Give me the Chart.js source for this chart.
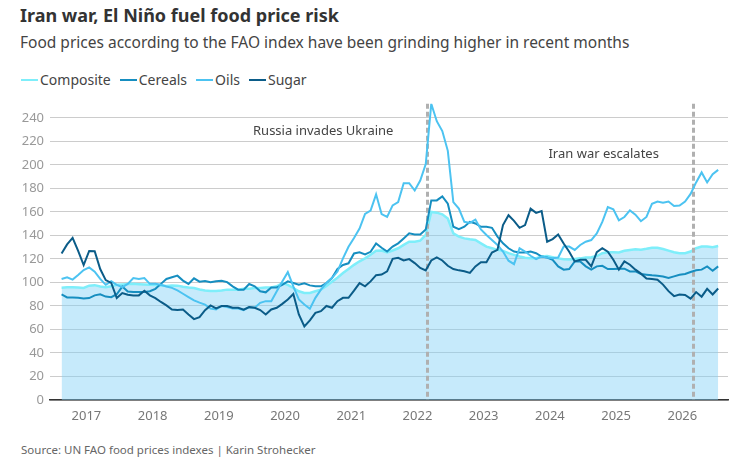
<!DOCTYPE html>
<html>
<head>
<meta charset="utf-8">
<title>FAO food prices</title>
<script src="https://cdn.jsdelivr.net/npm/chart.js@4.4.1/dist/chart.umd.min.js"></script>
<style>
  body { margin: 0; background: #fff; font-family: "Noto Sans", sans-serif; }
  #wrap { position: relative; width: 748px; height: 464px; overflow: hidden; }
  #title { position: absolute; left: 20px; top: 3px; font-size: 18px; font-weight: 700; color: #333; }
  #subtitle { position: absolute; left: 20px; top: 31px; font-size: 15.5px; color: #444; }
  #legend { position: absolute; left: 21px; top: 70px; font-size: 14px; color: #444; display: flex; }
  #legend span.item { display: flex; align-items: center; margin-right: 9px; }
  #legend i { display: inline-block; width: 17px; height: 2px; margin-right: 2px; }
  #source { position: absolute; left: 21px; top: 442px; font-size: 11.5px; color: #666; }
  #chart { position: absolute; left: 0; top: 90px; }
</style>
</head>
<body>
<div id="wrap">
  <div id="title">Iran war, El Niño fuel food price risk</div>
  <div id="subtitle">Food prices according to the FAO index have been grinding higher in recent months</div>
  <div id="legend"></div>
  <canvas id="chart" width="748" height="340"></canvas>
  <div id="source">Source: UN FAO food prices indexes | Karin Strohecker</div>
</div>
<script>
// ==============================
// DATA (monthly, Aug 2016 - Jul 2026)
// ==============================
const startYear = 2016;
const startMonth = 8;
const yearTicks = [2017, 2018, 2019, 2020, 2021, 2022, 2023, 2024, 2025, 2026];
const valueTicks = [0, 20, 40, 60, 80, 100, 120, 140, 160, 180, 200, 220, 240];

const composite = [
  95.6, 96, 96, 95.8, 95.3, 97.3, 97.7, 96.5, 96, 96.7,
  98, 98.3, 98.7, 98.8, 98.5, 98.3, 98, 97.8, 97.5, 97,
  97.5, 97.3, 96.3, 95.7, 95.3, 94, 93.2, 92.8, 92.8, 93.2,
  93.9, 93.9, 93.9, 94.7, 94.7, 95.3, 95.3, 95.8, 95.8, 96.7,
  99.5, 98, 95.3, 92.5, 91.1, 91.1, 92.5, 93.9, 97, 100.5,
  104, 108, 111.5, 115, 118, 120.5, 123.5, 127, 127.2, 125.5,
  127.2, 129.1, 132, 134.7, 134.7, 135.6, 140.4, 160, 159.4, 158,
  154.4, 141.8, 139, 137.5, 136.7, 136.1, 133.3, 130.5, 129.1, 127.7,
  126.9, 124.9, 123.5, 122.1, 121, 120.7, 120.7, 122, 122.5, 121.5,
  120.5, 119.8, 119.5, 120, 120.5, 121.2, 121.5, 122.5, 124.9, 125.7,
  125.8, 125.5, 127, 127.6, 128.2, 127.9, 128.6, 129.6, 129.6, 128.5,
  127.1, 125.7, 124.9, 124.9, 126.3, 129.1, 130.5, 130.5, 129.9, 131
];

const cereals = [
  89.8, 87.3, 87.3, 87, 86.4, 86.7, 89, 90, 88, 87.5,
  90, 96.5, 92.3, 91.8, 91.8, 91.8, 92.5, 94.6, 98.8, 103,
  104.4, 105.8, 101.6, 98.8, 103.5, 100.7, 101.3, 100.2, 101, 101.5,
  100.3, 96.7, 93.9, 93.9, 98.7, 96.7, 92.5, 91.6, 95.8, 95.8,
  98, 100.9, 99.5, 98, 99.2, 97.5, 96.7, 96.7, 99.5, 103.7,
  111.6, 114.9, 116.3, 124.7, 125.6, 123.9, 126.1, 133.2, 129.5, 126.3,
  130.5, 133.3, 137.5, 141.8, 140.9, 140.9, 145.1, 169.8, 169.8, 173.2,
  167, 147.4, 145.4, 147.4, 151.6, 150.2, 147.4, 147.4, 146.5, 139,
  133.3, 129.1, 126.3, 125.5, 125.5, 126.3, 124.9, 122.1, 121.2, 119.3,
  113.7, 110.9, 111.4, 117.9, 117.9, 113.7, 110.9, 113.7, 114.2, 111.4,
  111.4, 111.7, 111.7, 109.4, 109.4, 107.2, 106.6, 106.1, 105.8, 105,
  103.8, 105.2, 106.6, 107.2, 108.9, 110.3, 110.9, 113.7, 110, 113.7
];

const oils = [
  103, 104.4, 102.4, 106.3, 110.6, 112.8, 109.2, 103, 98, 101,
  98, 96, 98.8, 103.8, 103, 103.8, 98.8, 98.8, 98, 96.5,
  95.4, 93.2, 90.4, 87.6, 84.8, 82.8, 81.1, 77.7, 77, 80,
  79, 77.9, 77.9, 76.5, 79, 78.5, 82.7, 84.1, 84.1, 92.5,
  100.9, 108.8, 96.7, 85.5, 81.3, 77.6, 86.9, 93.9, 99.5, 103.7,
  109.3, 120.5, 130.4, 137.9, 145.8, 158.4, 161.2, 175, 158.2, 155.8,
  165.6, 168.4, 184.4, 184.4, 178.2, 186.7, 200.7, 252, 237.2, 228.8,
  212, 168.4, 162.8, 151.6, 150.7, 153.5, 145.1, 140.4, 136.1, 131.9,
  126.3, 118.5, 115.6, 129.1, 126.3, 122.7, 119.9, 122, 121.2, 120.7,
  121.2, 130.5, 130.5, 127.7, 131.9, 134.7, 136.1, 141.7, 151.5, 164.1,
  162.2, 152.9, 155.7, 161.3, 157.7, 152.1, 155.7, 166.9, 168.9, 167.8,
  168.9, 165, 165.5, 168.9, 175.3, 185.1, 193.6, 185.1, 192.2, 195.8
];

const sugar = [
  124.6, 132.4, 138, 126.8, 114.8, 126.8, 126.5, 111.4, 102, 99.6,
  86.7, 91, 89.5, 89, 89, 92.9, 89, 86.7, 83.4, 80.5,
  77, 76.6, 77, 72.7, 68.8, 70.5, 76.4, 80.5, 78, 80,
  79.9, 78.5, 78.5, 76.8, 79, 78.5, 76.5, 72.8, 77, 78.5,
  81.8, 85.5, 90.2, 72.8, 62.5, 67.8, 74.2, 75.6, 80, 78.5,
  84.1, 86.9, 86.9, 93, 99.5, 96.7, 100.9, 106.2, 106.7, 109.5,
  120.1, 121, 118.7, 119.9, 116.5, 112.3, 110.3, 118.7, 121.3, 118.7,
  114.2, 111.4, 110.3, 109.5, 108.1, 113.7, 117.3, 117.3, 125.5, 127.7,
  148.8, 157.2, 152.4, 146.5, 148.8, 162.8, 159.2, 160.8, 134.7, 136.9,
  140.8, 133.2, 126.2, 117.9, 119.3, 119.3, 113.7, 125.7, 129.1, 126.2,
  119.3, 110.9, 117.9, 115.1, 110.9, 107.5, 103.3, 103, 102.4, 98.2,
  92.6, 88.4, 89.8, 89.3, 86.2, 91.8, 87.9, 94.6, 89.8, 94.9
];

// events drawn as dashed verticals (decimal year)
const eventNames = ["Russia invades Ukraine", "Iran war escalates"];
const eventDates = [2022.15, 2026.16];

// ==============================
// SERIES SETUP
// ==============================
const series = [
  { label: "Composite", values: composite, color: "#7EEEFA" },
  { label: "Cereals", values: cereals, color: "#168EC0" },
  { label: "Oils", values: oils, color: "#4CC3F1" },
  { label: "Sugar", values: sugar, color: "#0B5C88" }
];

// month midpoint as decimal year
const monthX = i => startYear + (startMonth - 1 + i + 0.5) / 12;
const toPoints = arr => arr.map((v, i) => ({ x: monthX(i), y: v }));

// html legend
const legendEl = document.getElementById("legend");
series.forEach(s => {
  const item = document.createElement("span");
  item.className = "item";
  item.innerHTML = `<i style="background:${s.color}"></i>${s.label}`;
  legendEl.appendChild(item);
});

// dashed event lines + labels
const eventPlugin = {
  id: "eventLines",
  afterDatasetDraw(chart, args) {
    if (args.index !== 0) return; // after composite fill, before other lines
    const { ctx, chartArea, scales } = chart;
    ctx.save();
    ctx.strokeStyle = "#b0b0b0";
    ctx.lineWidth = 3;
    ctx.setLineDash([5, 3]);
    eventDates.forEach(d => {
      const x = Math.round(scales.x.getPixelForValue(d)) + 0.5;
      ctx.beginPath();
      ctx.moveTo(x, chartArea.top);
      ctx.lineTo(x, chartArea.bottom);
      ctx.stroke();
    });
    ctx.restore();
  },
  afterDatasetsDraw(chart) {
    const { ctx, scales } = chart;
    const labelY = [229, 209];
    ctx.save();
    ctx.font = '13px "Noto Sans", sans-serif';
    ctx.fillStyle = "#444";
    ctx.textAlign = "right";
    ctx.textBaseline = "middle";
    eventNames.forEach((name, k) => {
      const x = scales.x.getPixelForValue(eventDates[k]) - 34;
      ctx.fillText(name, x, scales.y.getPixelForValue(labelY[k]));
    });
    ctx.restore();
  }
};

new Chart(document.getElementById("chart").getContext("2d"), {
  type: "line",
  data: {
    datasets: series.map((s, k) => ({
      label: s.label,
      data: toPoints(s.values),
      borderColor: s.color,
      borderWidth: k === 0 ? 2.5 : 2,
      fill: k === 0 ? "origin" : false,
      backgroundColor: k === 0 ? "rgba(130, 210, 246, 0.46)" : s.color,
      order: k === 0 ? 4 : 4 - k
    }))
  },
  options: {
    responsive: false,
    animation: false,
    layout: { padding: { top: 11, right: 20, left: 0, bottom: 0 } },
    elements: { point: { radius: 0 }, line: { tension: 0 } },
    plugins: { legend: { display: false }, tooltip: { enabled: false } },
    scales: {
      x: {
        type: "linear",
        min: 2016.45,
        max: 2026.69,
        grid: { display: false, drawTicks: false },
        border: { color: "#333", width: 1.5 },
        ticks: { color: "#777", font: { size: 13, family: "Noto Sans" }, padding: 8, callback: v => String(v) },
        afterBuildTicks: s => { s.ticks = yearTicks.map(y => ({ value: y })); },
        afterFit: s => { s.height = 30; }
      },
      y: {
        min: 0,
        max: 252,
        grid: { color: "#cccccc", drawTicks: false },
        border: { display: false },
        ticks: { color: "#999", font: { size: 13, family: "Noto Sans" }, padding: 6 },
        afterBuildTicks: s => { s.ticks = valueTicks.map(v => ({ value: v })); },
        afterFit: s => { s.width = 50; }
      }
    }
  },
  plugins: [eventPlugin]
});
</script>
</body>
</html>
